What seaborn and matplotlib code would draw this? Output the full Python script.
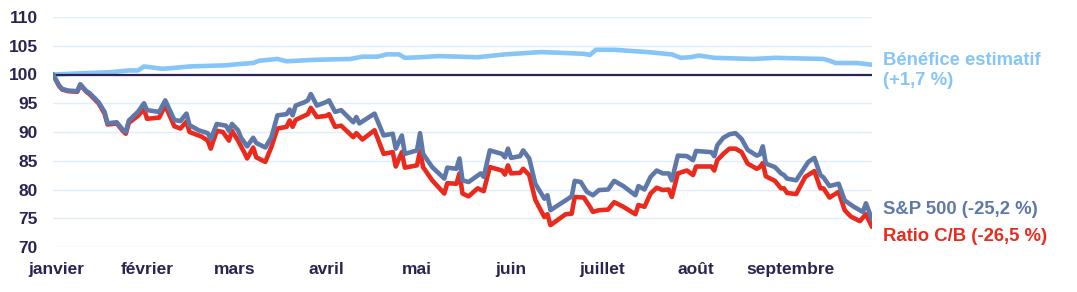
import matplotlib
matplotlib.use("Agg")
import matplotlib.pyplot as plt
import matplotlib.transforms as mtransforms
import seaborn as sns
import pandas as pd

# ---- data (day of year 2022, index value) ----
sp_days = [3, 5, 6, 8, 11, 12, 14, 15, 18, 20, 21, 24, 26, 27, 28, 31, 33, 34, 38, 40,
           43, 45, 47, 48, 51, 54, 55, 57, 60, 61, 62, 64, 65, 67, 69, 70, 73, 75, 77, 80,
           81, 82, 83, 86, 87, 88, 90, 93, 94, 96, 98, 102, 103, 104, 109, 112, 115, 116, 118, 119,
           123, 124, 125, 128, 132, 133, 136, 137, 138, 140, 144, 145, 147, 151, 152, 153, 154, 157, 158, 160,
           162, 165, 166, 167, 172, 174, 175, 177, 179, 181, 183, 186, 188, 191, 195, 196, 198, 200, 202, 204,
           206, 207, 209, 212, 214, 215, 220, 221, 222, 224, 226, 228, 230, 232, 235, 236, 237, 238, 241, 243,
           244, 245, 248, 252, 254, 256, 257, 259, 262, 264, 267, 270, 271, 273]
sp_vals = [100.0, 98.1, 97.5, 97.2, 97.1, 98.3, 97.1, 96.8, 95.2, 93.5, 91.5, 91.7, 90.4, 90.0, 92.0, 93.5, 95.0, 93.8, 93.5, 95.5,
           92.1, 91.9, 93.2, 91.2, 90.3, 89.8, 88.8, 91.4, 91.1, 90.2, 91.4, 90.3, 89.0, 87.5, 89.0, 88.1, 87.3, 89.1, 92.9, 93.1,
           93.9, 92.9, 94.6, 95.2, 95.5, 96.6, 94.6, 95.2, 95.5, 93.5, 93.8, 91.7, 92.6, 91.5, 93.2, 89.4, 89.7, 87.1, 89.4, 86.2,
           86.8, 89.8, 86.2, 83.9, 81.9, 83.8, 83.6, 85.4, 81.6, 81.3, 82.8, 82.2, 86.8, 86.2, 85.6, 87.1, 85.5, 85.8, 86.8, 85.4,
           81.0, 78.4, 79.0, 76.4, 78.1, 78.8, 81.5, 81.3, 79.6, 79.0, 79.9, 80.0, 81.5, 80.6, 79.0, 80.6, 80.0, 82.2, 83.3, 82.8,
           82.8, 81.6, 85.9, 85.8, 85.1, 86.7, 86.5, 85.8, 87.7, 89.0, 89.6, 89.8, 88.8, 86.9, 85.9, 86.1, 87.5, 84.5, 83.9, 82.8,
           82.5, 81.9, 81.6, 84.8, 85.5, 82.5, 82.1, 80.6, 81.0, 78.1, 77.0, 76.1, 77.6, 74.8]

pe_days = [3, 5, 6, 8, 11, 12, 14, 15, 18, 20, 21, 24, 26, 27, 28, 31, 33, 34, 38, 40,
           43, 45, 47, 48, 52, 54, 55, 57, 59, 61, 62, 64, 66, 67, 69, 70, 73, 75, 77, 80,
           81, 82, 83, 87, 88, 90, 93, 94, 96, 98, 102, 103, 105, 109, 112, 115, 116, 118, 119, 123,
           124, 125, 128, 132, 133, 136, 137, 138, 140, 143, 145, 147, 151, 152, 153, 154, 157, 158, 160, 162,
           165, 166, 167, 172, 174, 175, 178, 180, 181, 183, 186, 188, 191, 195, 196, 198, 200, 202, 204, 206,
           207, 209, 212, 214, 215, 220, 221, 222, 224, 226, 228, 230, 232, 235, 236, 237, 238, 241, 243, 244,
           245, 248, 251, 254, 256, 257, 259, 262, 264, 266, 269, 271, 273]
pe_vals = [100.0, 98.0, 97.4, 97.1, 97.0, 98.2, 97.0, 96.6, 95.0, 93.2, 91.3, 91.5, 90.2, 89.7, 91.6, 92.8, 94.0, 92.3, 92.5, 94.6,
           91.0, 90.6, 91.8, 90.0, 89.2, 88.5, 87.1, 90.2, 90.0, 88.5, 90.2, 88.5, 86.5, 85.4, 87.3, 85.6, 84.8, 87.4, 90.6, 90.9,
           92.0, 90.9, 92.1, 93.1, 94.2, 92.6, 92.8, 93.1, 90.9, 91.1, 89.1, 89.8, 88.7, 90.3, 86.2, 86.5, 84.0, 86.5, 83.8, 84.2,
           86.7, 83.9, 81.6, 79.3, 81.1, 81.0, 82.8, 79.3, 78.8, 80.2, 79.7, 83.9, 83.3, 82.6, 84.2, 82.8, 82.9, 83.6, 82.5, 78.2,
           75.2, 75.7, 73.8, 75.7, 75.8, 78.7, 78.6, 77.0, 76.1, 76.4, 76.5, 77.8, 77.0, 75.7, 77.3, 77.0, 79.3, 80.3, 79.9, 80.0,
           78.7, 82.8, 83.3, 82.5, 84.0, 84.0, 83.3, 85.1, 86.2, 87.1, 87.1, 86.5, 84.5, 83.6, 83.9, 84.6, 82.3, 81.5, 80.2, 80.2,
           79.4, 79.2, 82.2, 83.2, 80.2, 80.2, 78.6, 79.6, 76.4, 75.3, 74.5, 75.7, 73.5]

eps_days = [3, 12, 22, 28, 31, 33, 39, 42, 48, 60, 65, 69, 71, 77, 80, 89, 101, 105, 110, 113,
            117, 119, 124, 130, 137, 143, 152, 164, 178, 180, 182, 188, 199, 207, 210, 213, 216, 221, 234, 241,
            257, 259, 261, 268, 273]
eps_vals = [100.0, 100.2, 100.4, 100.7, 100.7, 101.4, 101.0, 101.1, 101.4, 101.6, 101.85, 102.0, 102.4, 102.7, 102.3, 102.55, 102.7, 103.1, 103.1, 103.5,
            103.5, 102.9, 103.0, 103.2, 103.1, 103.0, 103.5, 103.9, 103.6, 103.4, 104.3, 104.3, 103.9, 103.5, 102.9, 103.0, 103.3, 102.9, 102.7, 102.9,
            102.7, 102.4, 102.0, 102.0, 101.7]

month_labels = ["janvier", "février", "mars", "avril", "mai", "juin", "juillet", "août", "septembre"]
month_tick_dates = ["2022-01-04", "2022-02-03", "2022-03-04", "2022-04-03", "2022-05-03",
                    "2022-06-03", "2022-07-03", "2022-08-03", "2022-09-03"]

labels_right = ["Bénéfice estimatif\n(+1,7 %)", "S&P 500 (-25,2 %)", "Ratio C/B (-26,5 %)"]

# ---- styling ----
C_EPS = "#86c5f7"
C_SP = "#5f78aa"
C_PE = "#ea2a1d"
C_NAVY = "#2c2352"
C_GRID = "#dfeefa"

sns.set_theme(style="white")
plt.rcParams["font.family"] = ["Liberation Sans", "DejaVu Sans"]


def to_dates(days):
    return pd.Timestamp("2022-01-01") + pd.to_timedelta([d - 1 for d in days], unit="D")


df_sp = pd.DataFrame({"date": to_dates(sp_days), "value": sp_vals})
df_pe = pd.DataFrame({"date": to_dates(pe_days), "value": pe_vals})
df_eps = pd.DataFrame({"date": to_dates(eps_days), "value": eps_vals})

fig = plt.figure(figsize=(10.77, 2.92), dpi=100)
ax = fig.add_axes([53 / 1077, 1 - 247 / 292, (872 - 53) / 1077, (247 - 17) / 292])

ax.set_ylim(70, 110)
ax.set_yticks([70, 75, 80, 85, 90, 95, 100, 105, 110])
ax.grid(axis="y", color=C_GRID, linewidth=1.0, zorder=0)
ax.grid(axis="x", visible=False)

sns.lineplot(data=df_eps, x="date", y="value", ax=ax, color=C_EPS, linewidth=3.3, zorder=3)
ax.axhline(100, color=C_NAVY, linewidth=1.6, zorder=4)
sns.lineplot(data=df_pe, x="date", y="value", ax=ax, color=C_PE, linewidth=3.3, zorder=5)
sns.lineplot(data=df_sp, x="date", y="value", ax=ax, color=C_SP, linewidth=3.3, zorder=6)

ax.set_xlim(df_sp["date"].iloc[0], df_sp["date"].iloc[-1])
ax.set_xticks(pd.to_datetime(month_tick_dates))
ax.set_xticklabels(month_labels)
ax.set_xlabel("")
ax.set_ylabel("")

for s in ax.spines.values():
    s.set_visible(False)

ax.tick_params(axis="both", length=0, labelsize=12.5, labelcolor=C_NAVY)
ax.tick_params(axis="x", pad=11)
ax.tick_params(axis="y", pad=11)
for lbl in ax.get_xticklabels() + ax.get_yticklabels():
    lbl.set_fontweight("bold")

trans = mtransforms.blended_transform_factory(ax.transAxes, ax.transData)
ax.text(1.014, 100.7, labels_right[0], transform=trans, color=C_EPS, fontsize=13.3,
        fontweight="bold", va="center", ha="left", linespacing=1.25)
ax.text(1.014, 76.6, labels_right[1], transform=trans, color=C_SP, fontsize=13.3,
        fontweight="bold", va="center", ha="left")
ax.text(1.014, 71.9, labels_right[2], transform=trans, color=C_PE, fontsize=13.3,
        fontweight="bold", va="center", ha="left")

fig.savefig("out.png", dpi=100, facecolor="white")
